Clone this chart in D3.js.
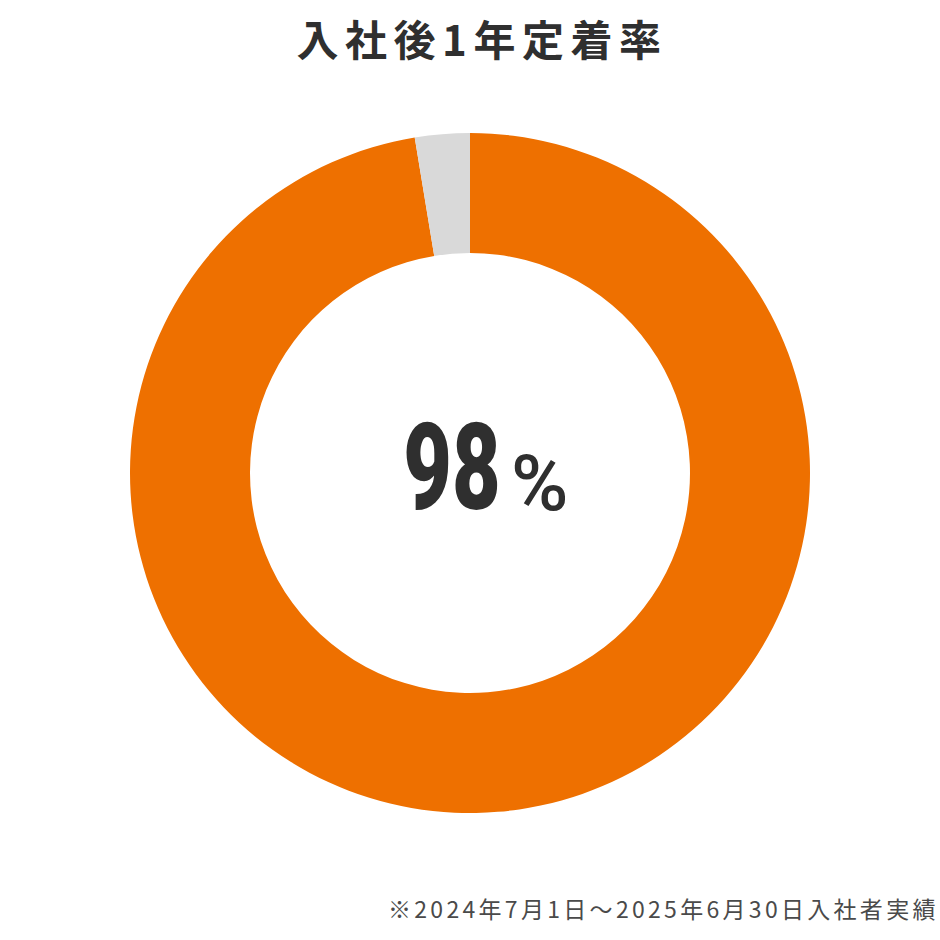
<!DOCTYPE html>
<html>
<head>
<meta charset="utf-8">
<script src="https://cdn.jsdelivr.net/npm/d3@7"></script>
<style>
  body { margin: 0; background: #fff; }
  svg { display: block; }
</style>
</head>
<body>
<div id="chart"></div>
<script>
// data
const labels = ["定着", "退職"];
const values = [97.4, 2.6];
const colors = ["#ee7000", "#d9d9d9"];
const title = "入社後1年定着率";
const centerValue = "98";
const note = "※2024年7月1日～2025年6月30日入社者実績";

const width = 940, height = 940;
const cx = 470, cy = 473;
const outerR = 340, innerR = 220;

const svg = d3.select("#chart").append("svg")
  .attr("width", width)
  .attr("height", height);

svg.append("text")
  .attr("x", 482)
  .attr("y", 56)
  .attr("text-anchor", "middle")
  .style("font-family", "'Noto Sans CJK JP', sans-serif")
  .style("font-weight", 700)
  .style("font-size", "42px")
  .style("letter-spacing", "6.5px")
  .style("fill", "#2f2f2f")
  .text(title);

const pie = d3.pie().sort(null).value(d => d);
const arc = d3.arc().innerRadius(innerR).outerRadius(outerR);

const g = svg.append("g").attr("transform", `translate(${cx},${cy})`);

g.selectAll("path")
  .data(pie(values))
  .join("path")
  .attr("d", arc)
  .attr("fill", (d, i) => colors[i]);

// center label
const big = svg.append("g").attr("transform", `translate(452,509) scale(0.7,1)`);
big.append("text")
  .attr("text-anchor", "middle")
  .style("font-family", "Roboto, sans-serif")
  .style("font-weight", 900)
  .style("font-size", "120px")
  .style("fill", "#2f2f2f")
  .text(centerValue);

svg.append("text")
  .attr("x", 511)
  .attr("y", 510)
  .style("font-family", "Roboto, sans-serif")
  .style("font-weight", 500)
  .style("font-size", "78px")
  .style("fill", "#2f2f2f")
  .text("%");

svg.append("text")
  .attr("x", 388)
  .attr("y", 918)
  .style("font-family", "'Noto Sans CJK JP', sans-serif")
  .style("font-size", "23px")
  .style("letter-spacing", "3.3px")
  .style("fill", "#4a4a4a")
  .text(note);
</script>
</body>
</html>
